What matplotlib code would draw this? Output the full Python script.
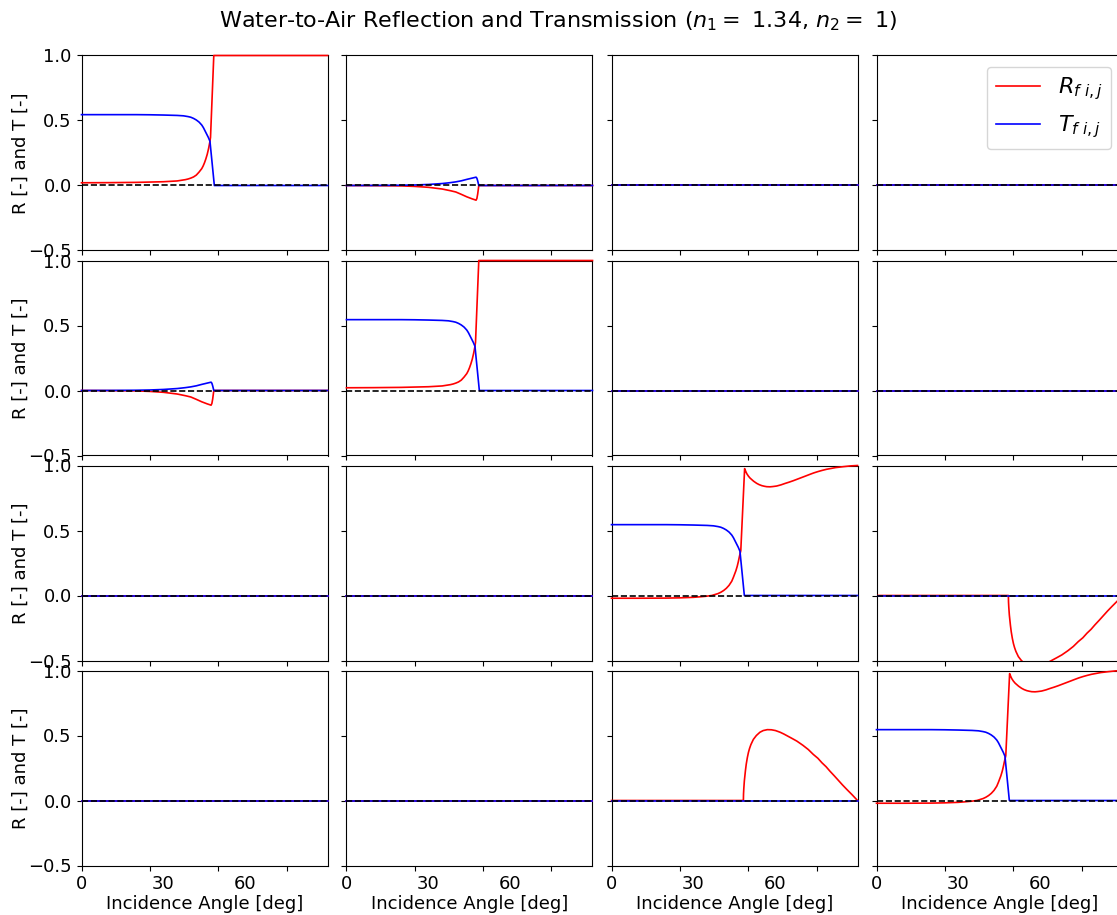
import matplotlib
matplotlib.use("Agg")
import matplotlib.pyplot as plt

# ---------------- data ----------------
# panels (0,0) and (1,1): intensity reflection / transmission
angle_R_main = [0, 10, 20, 30, 35, 38, 39, 40, 41, 42, 43, 44, 44.5, 45, 45.5, 46, 46.5, 47.0,
                47.2, 48.4, 60, 75, 90]
R_main = [0.021, 0.022, 0.024, 0.029, 0.035, 0.045, 0.050, 0.057, 0.066, 0.080, 0.103, 0.13,
          0.15, 0.175, 0.205, 0.24, 0.285, 0.34, 0.37, 1.0, 1.0, 1.0, 1.0]
angle_T_main = [0, 20, 25, 30, 35, 37.3, 39, 40, 41, 42, 43, 44, 44.6, 45.2, 45.8, 46.4, 47.0,
                48.6, 60, 75, 90]
T_main = [0.545, 0.545, 0.544, 0.542, 0.539, 0.536, 0.530, 0.525, 0.516, 0.504, 0.488, 0.465,
          0.445, 0.42, 0.395, 0.37, 0.34, 0.0, 0.0, 0.0, 0.0]

# panels (0,1) and (1,0)
angle_cross = [0, 10, 20, 25, 30, 35, 38, 40, 42, 44, 45, 46, 47, 47.4, 47.7, 48.0, 48.4, 60, 90]
R_cross = [0, -0.001, -0.003, -0.007, -0.014, -0.027, -0.04, -0.05, -0.068, -0.087, -0.095, -0.103,
           -0.11, -0.113, -0.10, -0.065, 0.0, 0.0, 0.0]
T_cross = [0, 0.0005, 0.002, 0.004, 0.008, 0.015, 0.022, 0.028, 0.036, 0.047, 0.052, 0.057,
           0.062, 0.064, 0.056, 0.035, 0.0, 0.0, 0.0]

# panels (2,2) and (3,3)
angle_circ = [0, 10, 20, 25, 30, 32.4, 34.5, 36.7, 39, 40, 41, 42, 43, 44, 44.6, 45.5, 46, 46.4,
              46.8, 47.3, 48.7, 49.1, 49.5, 50.1, 50.7, 51.4, 52, 53.1, 54, 55, 56, 56.8, 58, 59,
              60.4, 62, 63.5, 65, 66.5, 68, 69.5, 71, 72.6, 74, 75.5, 77, 78.7, 80.5, 82, 84.8,
              87.5, 90]
R_circ = [-0.021, -0.021, -0.02, -0.018, -0.014, -0.01, -0.006, 0.0, 0.015, 0.025, 0.038, 0.055,
          0.078, 0.11, 0.14, 0.19, 0.225, 0.26, 0.30, 0.345, 0.976, 0.955, 0.937, 0.918, 0.903,
          0.89, 0.879, 0.863, 0.853, 0.845, 0.84, 0.837, 0.836, 0.838, 0.842, 0.851, 0.862,
          0.872, 0.883, 0.895, 0.907, 0.919, 0.932, 0.943, 0.953, 0.962, 0.971, 0.978, 0.984,
          0.991, 0.997, 1.0]

# panels (3,2) and (2,3)
angle_phase = [0, 48.25, 48.3, 48.4, 48.6, 48.8, 49.0, 49.3, 49.7, 50.1, 50.5, 51, 51.9, 53,
               54.3, 55.5, 57, 58.5, 60, 61.7, 63, 64.5, 66, 67.8, 70, 72, 73.8, 75.5, 77, 78.5,
               79.9, 81.5, 83, 84.5, 86.1, 88, 90]
R_phase_lower = [0, 0, 0.05, 0.09, 0.15, 0.19, 0.23, 0.28, 0.33, 0.37, 0.40, 0.43, 0.47, 0.50,
                 0.525, 0.538, 0.545, 0.544, 0.538, 0.525, 0.512, 0.495, 0.478, 0.457, 0.425,
                 0.392, 0.355, 0.325, 0.29, 0.26, 0.226, 0.19, 0.155, 0.12, 0.085, 0.045, 0.0]
R_phase_upper = [0, 0, -0.05, -0.09, -0.15, -0.19, -0.23, -0.28, -0.33, -0.37, -0.40, -0.43,
                 -0.47, -0.50, -0.525, -0.538, -0.545, -0.544, -0.538, -0.525, -0.512, -0.495,
                 -0.478, -0.457, -0.425, -0.392, -0.355, -0.325, -0.29, -0.26, -0.226, -0.19,
                 -0.155, -0.12, -0.085, -0.045, 0.0]

# all other panels
angle_zero = [0, 90]
zero_vals = [0, 0]

panels = {
    (0, 0): (angle_R_main, R_main, angle_T_main, T_main),
    (1, 1): (angle_R_main, R_main, angle_T_main, T_main),
    (0, 1): (angle_cross, R_cross, angle_cross, T_cross),
    (1, 0): (angle_cross, R_cross, angle_cross, T_cross),
    (2, 2): (angle_circ, R_circ, angle_T_main, T_main),
    (3, 3): (angle_circ, R_circ, angle_T_main, T_main),
    (3, 2): (angle_phase, R_phase_lower, angle_zero, zero_vals),
    (2, 3): (angle_phase, R_phase_upper, angle_zero, zero_vals),
}

y_ticks = [-0.5, 0.0, 0.5, 1.0]
x_tick_marks = [0, 25, 50, 75]
x_tick_labels = [0, 30, 60]

title = r'Water-to-Air Reflection and Transmission ($n_1 =$ 1.34, $n_2 =$ 1)'
xlabel = 'Incidence Angle [deg]'
ylabel = 'R [-] and T [-]'

# ---------------- drawing ----------------
W, H = 1117, 915
fig = plt.figure(figsize=(W / 100, H / 100), dpi=100)
fig.patch.set_facecolor('white')

ax_w, ax_h = 246, 195
x0, y0 = 81.5, 55.5
dx, dy = 265, 205

for r in range(4):
    for c in range(4):
        left = (x0 + c * dx) / W
        bottom = 1 - (y0 + r * dy + ax_h) / H
        ax = fig.add_axes([left, bottom, ax_w / W, ax_h / H])
        aR, R, aT, T = panels.get((r, c), (angle_zero, zero_vals, angle_zero, zero_vals))
        clip = (r, c) == (2, 3)
        ax.plot(aR, R, color='red', lw=1.2, label=r'$R_{f\ i,j}$', zorder=3, clip_on=clip)
        ax.plot(aT, T, color='blue', lw=1.2, label=r'$T_{f\ i,j}$', zorder=3, clip_on=clip)
        ax.axhline(0, color='black', ls='--', lw=1.2, zorder=3.5)
        ax.set_xlim(0, 90)
        ax.set_ylim(-0.5, 1.0)
        ax.set_yticks(y_ticks)
        ax.xaxis.remove_overlapping_locs = False
        ax.set_xticks(x_tick_marks)
        ax.set_xticklabels([''] * len(x_tick_marks))
        ax.tick_params(axis='both', labelsize=13)
        if c == 0:
            ax.set_ylabel(ylabel, fontsize=13, labelpad=-1)
        else:
            ax.tick_params(axis='y', labelleft=False)
        if r == 3:
            ax.set_xticks(x_tick_labels, minor=True)
            ax.set_xticklabels([str(v) for v in x_tick_labels], minor=True)
            ax.tick_params(axis='x', which='minor', length=0, pad=7, labelsize=13)
            ax.set_xlabel(xlabel, fontsize=13, labelpad=1)
        if (r, c) == (0, 3):
            ax.legend(loc='upper right', fontsize=16)

fig.suptitle(title, fontsize=16, y=1 - 21 / H, va='center')
fig.savefig('out.png', dpi=100, facecolor='white')
